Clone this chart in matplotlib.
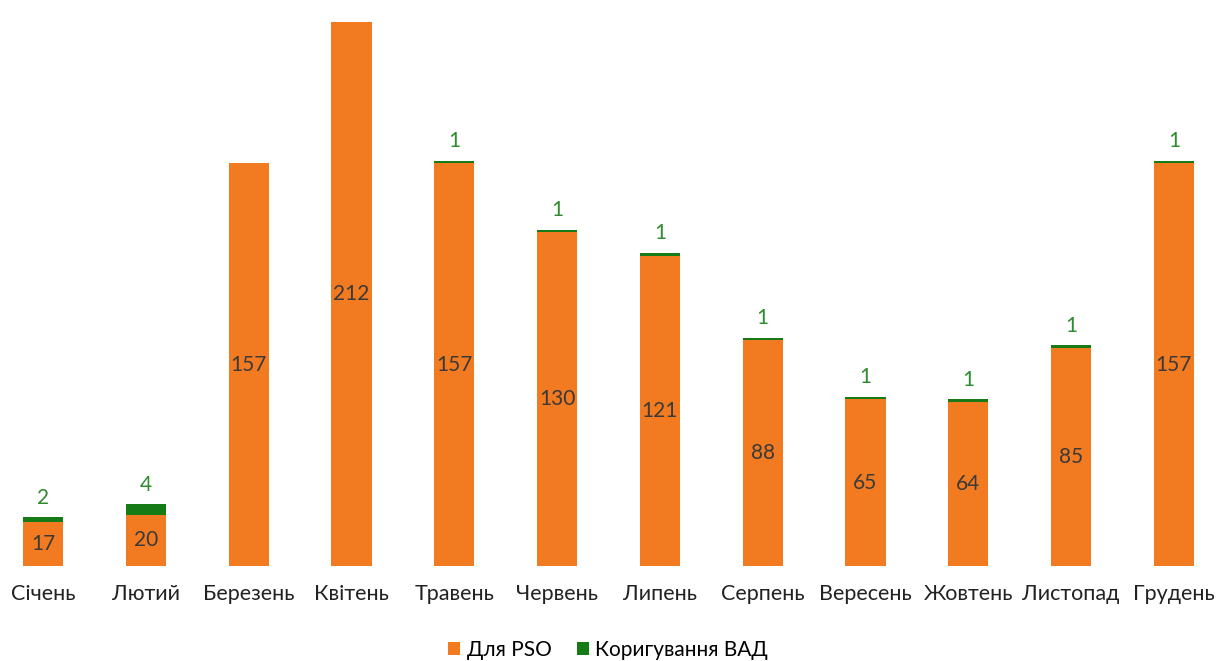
import matplotlib.pyplot as plt
import numpy as np

months = ["Січень", "Лютий", "Березень", "Квітень", "Травень", "Червень",
          "Липень", "Серпень", "Вересень", "Жовтень", "Листопад", "Грудень"]
pso = [17, 20, 157, 212, 157, 130, 121, 88, 65, 64, 85, 157]
vad = [2, 4, 0, 0, 1, 1, 1, 1, 1, 1, 1, 1]

ORANGE = "#F27A20"
GREEN = "#167A16"

plt.rcParams["font.family"] = ["Lato", "DejaVu Sans"]

fig = plt.figure(figsize=(12.16, 6.61), dpi=100)
ax = fig.add_axes([0, 0.1437, 1, 0.8563])

x = np.arange(len(months))
ax.bar(x, pso, 0.39, color=ORANGE, label="Для PSO")
ax.bar(x, vad, 0.39, bottom=pso, color=GREEN, label="Коригування ВАД")

for xi, p, v in zip(x, pso, vad):
    ax.text(xi, p / 2, str(p), ha="center", va="center", fontsize=15, color="#3a3a3a")
    if v:
        ax.annotate(str(v), (xi, p + v), xytext=(0, 7), textcoords="offset points",
                    ha="center", va="bottom", fontsize=15, color="#2E8B2E")

ax.set_xlim(-0.42, 11.41)
ax.set_ylim(0, 220.6)
ax.set_xticks(x)
ax.set_xticklabels(months, fontsize=15.5, color="#222222")
ax.tick_params(axis="x", length=0, pad=13)
ax.set_yticks([])
for s in ax.spines.values():
    s.set_visible(False)

fig.legend(loc="center", bbox_to_anchor=(0.5, 0.017), ncol=2, frameon=False,
           fontsize=15, handlelength=0.6, handleheight=0.6, handletextpad=0.3,
           columnspacing=1.2)

fig.savefig("out.png", dpi=100)
